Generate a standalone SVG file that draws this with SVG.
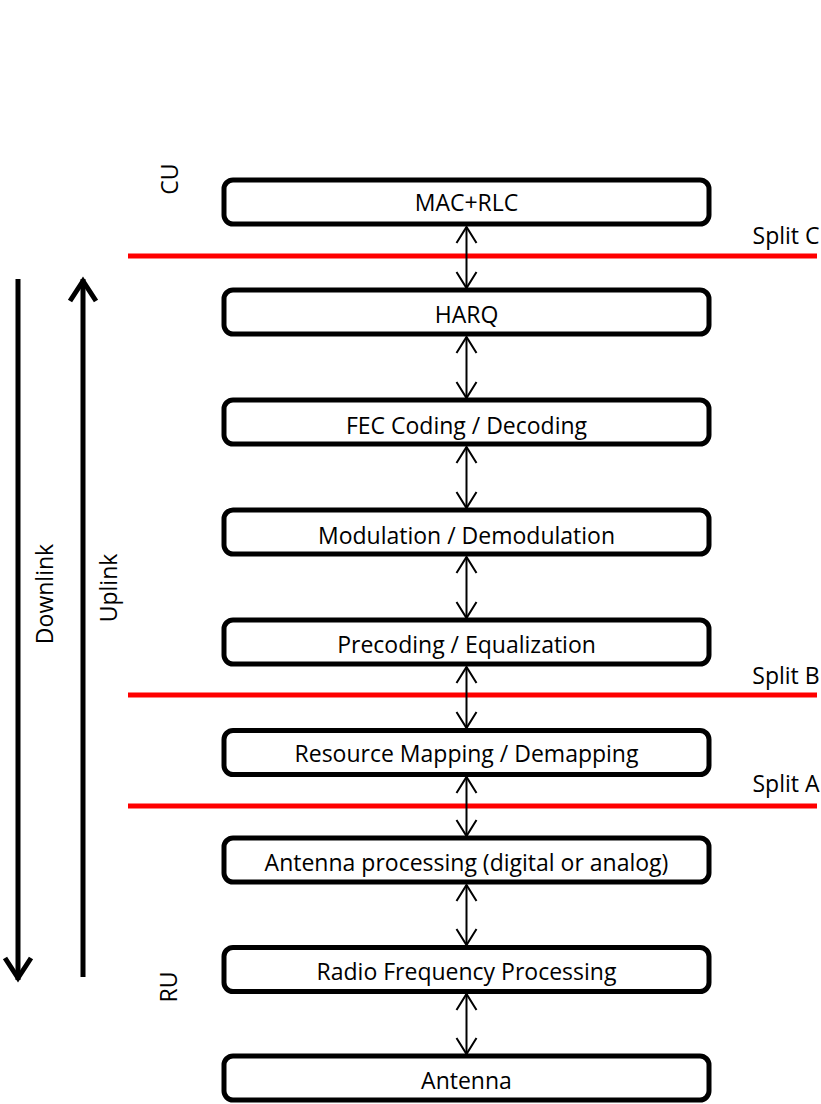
<svg xmlns="http://www.w3.org/2000/svg" width="821" height="1104" viewBox="0 0 821 1104">
<style>
.box{fill:#fff;stroke:#000;stroke-width:5}
.lbl{font-family:"Open Sans","Liberation Sans",sans-serif;font-size:23px;fill:#000;text-anchor:middle}
.side{font-family:"Open Sans","Liberation Sans",sans-serif;font-size:23px;fill:#000;text-anchor:middle}
.split{stroke:#ff0000;stroke-width:5}
.link{stroke:#000;stroke-width:2;fill:none;marker-start:url(#v);marker-end:url(#v)}
.big{stroke:#000;stroke-width:5;fill:none;marker-end:url(#bv)}
</style>
<defs>
<marker id="v" markerUnits="userSpaceOnUse" markerWidth="24" markerHeight="24" viewBox="-20 -12 22 24" refX="0" refY="0" orient="auto-start-reverse">
<path d="M-16,-10 L0,0 L-16,10" fill="none" stroke="#000" stroke-width="2"/>
</marker>
<marker id="bv" markerUnits="userSpaceOnUse" markerWidth="36" markerHeight="36" viewBox="-26 -18 32 36" refX="0" refY="0" orient="auto">
<path d="M-22,-13 L-2,0 L-22,13" fill="none" stroke="#000" stroke-width="5" stroke-linejoin="miter"/>
</marker>
</defs>
<rect width="821" height="1104" fill="#fff"/>
<g id="splits">
<line class="split" x1="128" y1="256" x2="817" y2="256"/>
<line class="split" x1="128" y1="695" x2="817" y2="695"/>
<line class="split" x1="128" y1="806" x2="817" y2="806"/>
<text class="side" x="786" y="244">Split C</text>
<text class="side" x="786" y="684">Split B</text>
<text class="side" x="786" y="792">Split A</text>
</g>
<g id="connectors">
<line class="link" x1="466.5" y1="227" x2="466.5" y2="288"/>
<line class="link" x1="466.5" y1="337" x2="466.5" y2="398"/>
<line class="link" x1="466.5" y1="447" x2="466.5" y2="508"/>
<line class="link" x1="466.5" y1="557" x2="466.5" y2="618"/>
<line class="link" x1="466.5" y1="667" x2="466.5" y2="728"/>
<line class="link" x1="466.5" y1="777" x2="466.5" y2="836"/>
<line class="link" x1="466.5" y1="885" x2="466.5" y2="945"/>
<line class="link" x1="466.5" y1="994" x2="466.5" y2="1054"/>
<line class="big" x1="18" y1="279" x2="18" y2="980"/>
<line class="big" x1="83" y1="977" x2="83" y2="279"/>
</g>
<g id="side-labels">
<text class="side" transform="translate(53,594) rotate(-90)">Downlink</text>
<text class="side" transform="translate(117,588) rotate(-90)">Uplink</text>
<text class="side" transform="translate(178,179) rotate(-90)">CU</text>
<text class="side" transform="translate(177,987) rotate(-90)">RU</text>
</g>
<g id="n1"><rect class="box" x="224" y="180" width="485" height="44" rx="9"/><text class="lbl" x="466.5" y="211">MAC+RLC</text></g>
<g id="n2"><rect class="box" x="224" y="290" width="485" height="44" rx="9"/><text class="lbl" x="466.5" y="323">HARQ</text></g>
<g id="n3"><rect class="box" x="224" y="400" width="485" height="44" rx="9"/><text class="lbl" x="466.5" y="434">FEC Coding / Decoding</text></g>
<g id="n4"><rect class="box" x="224" y="510" width="485" height="44" rx="9"/><text class="lbl" x="466.5" y="544">Modulation / Demodulation</text></g>
<g id="n5"><rect class="box" x="224" y="620" width="485" height="44" rx="9"/><text class="lbl" x="466.5" y="653">Precoding / Equalization</text></g>
<g id="n6"><rect class="box" x="224" y="730.5" width="485" height="44" rx="9"/><text class="lbl" x="466.5" y="762">Resource Mapping / Demapping</text></g>
<g id="n7"><rect class="box" x="224" y="838" width="485" height="44" rx="9"/><text class="lbl" x="466.5" y="871">Antenna processing (digital or analog)</text></g>
<g id="n8"><rect class="box" x="224" y="947.5" width="485" height="44" rx="9"/><text class="lbl" x="466.5" y="980">Radio Frequency Processing</text></g>
<g id="n9"><rect class="box" x="224" y="1056" width="485" height="44" rx="9"/><text class="lbl" x="466.5" y="1089">Antenna</text></g>
</svg>
